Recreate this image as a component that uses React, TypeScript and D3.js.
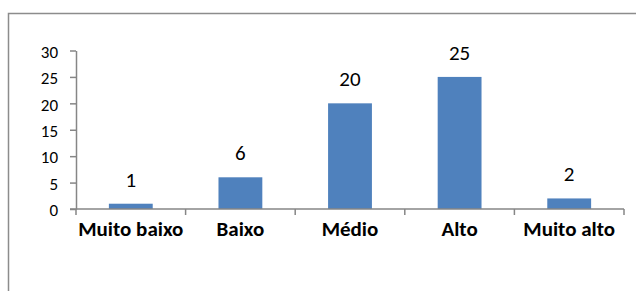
import * as d3 from "d3";
import { useEffect, useRef } from "react";

const categories = ["Muito baixo", "Baixo", "Médio", "Alto", "Muito alto"];
const values = [1, 6, 20, 25, 2];
const yTicks = [0, 5, 10, 15, 20, 25, 30];

const FONT = "Calibri, Carlito, Lato, sans-serif";
const AXIS_COLOR = "#868686";

const App = () => {
  const ref = useRef<SVGSVGElement | null>(null);

  useEffect(() => {
    const width = 636;
    const height = 291;
    const left = 76;
    const right = 624;
    const bottom = 209;
    const top = 50.5;

    const svg = d3.select(ref.current);
    svg.selectAll("*").remove();

    // outer chart border (runs off the right and bottom edges)
    svg
      .append("rect")
      .attr("x", 8.5)
      .attr("y", 13.5)
      .attr("width", width + 20)
      .attr("height", height + 20)
      .attr("fill", "#fff")
      .attr("stroke", "#8c8c8c")
      .attr("stroke-width", 1.5);

    const x = d3
      .scaleBand()
      .domain(categories)
      .range([left, right])
      .paddingInner(0.6)
      .paddingOuter(0.3);

    const xCat = d3.scaleBand().domain(categories).range([left, right]).padding(0);

    const y = d3.scaleLinear().domain([0, 30]).range([bottom, top]);

    // y axis
    const yAxis = svg
      .append("g")
      .attr("transform", `translate(${left},0)`)
      .call(d3.axisLeft(y).tickValues(yTicks).tickSize(6).tickSizeOuter(0));
    yAxis.select(".domain").attr("stroke", AXIS_COLOR).attr("stroke-width", 1.5);
    yAxis.selectAll(".tick line").attr("stroke", AXIS_COLOR).attr("stroke-width", 1.5);
    yAxis
      .selectAll(".tick text")
      .attr("x", -18)
      .attr("dy", "0.4em")
      .attr("fill", "#000")
      .style("font-family", FONT)
      .style("font-size", "17px");

    // bars
    svg
      .selectAll("rect.bar")
      .data(values)
      .enter()
      .append("rect")
      .attr("class", "bar")
      .attr("x", (d, i) => x(categories[i])!)
      .attr("y", (d) => y(d))
      .attr("width", x.bandwidth())
      .attr("height", (d) => bottom - y(d))
      .attr("fill", "#4F81BD");

    // x axis
    const xAxis = svg.append("g").attr("stroke", AXIS_COLOR).attr("stroke-width", 1.5);
    xAxis
      .append("line")
      .attr("x1", left - 6)
      .attr("x2", right)
      .attr("y1", bottom)
      .attr("y2", bottom);
    const bounds = categories.map((c) => xCat(c)!).concat([right]);
    xAxis
      .selectAll("line.tick")
      .data(bounds)
      .enter()
      .append("line")
      .attr("class", "tick")
      .attr("x1", (d) => d)
      .attr("x2", (d) => d)
      .attr("y1", bottom)
      .attr("y2", bottom + 6);

    svg
      .selectAll("text.cat")
      .data(categories)
      .enter()
      .append("text")
      .attr("class", "cat")
      .attr("x", (d) => xCat(d)! + xCat.bandwidth() / 2)
      .attr("y", 236)
      .attr("text-anchor", "middle")
      .style("font-family", FONT)
      .style("font-size", "21px")
      .style("font-weight", "bold")
      .text((d) => d);

    // data labels
    svg
      .selectAll("text.val")
      .data(values)
      .enter()
      .append("text")
      .attr("class", "val")
      .attr("x", (d, i) => x(categories[i])! + x.bandwidth() / 2)
      .attr("y", (d) => y(d) - 17)
      .attr("text-anchor", "middle")
      .style("font-family", FONT)
      .style("font-size", "21px")
      .text((d) => d);
  }, []);

  return (
    <svg
      ref={ref}
      width={636}
      height={291}
      style={{ position: "absolute", left: 0, top: 0, background: "#fff" }}
    />
  );
};

export default App;
